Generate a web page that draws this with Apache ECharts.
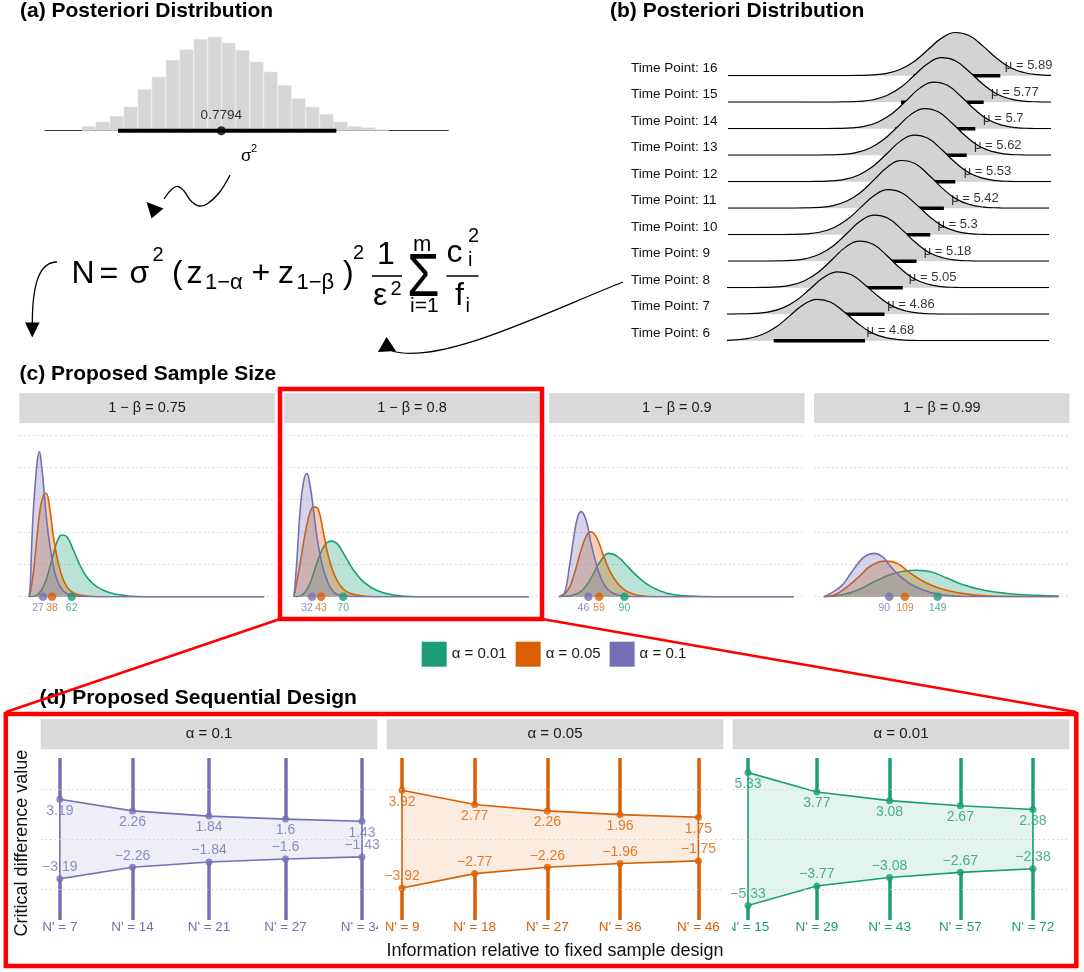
<!DOCTYPE html>
<html>
<head>
<meta charset="utf-8">
<script src="https://cdn.jsdelivr.net/npm/echarts@6/dist/echarts.min.js"></script>
<style>
  html, body { margin: 0; padding: 0; background: #fff; }
  #main { width: 1084px; height: 972px; }
</style>
</head>
<body>
<div id="main"></div>
<script>
// ---------- data ----------
// (a) posterior draws of sigma^2 (histogram)
const sigmaBins = [0.5425, 0.5675, 0.5925, 0.6175, 0.6425, 0.6675, 0.6925, 0.7175, 0.7425, 0.7675, 0.7925,
  0.8175, 0.8425, 0.8675, 0.8925, 0.9175, 0.9425, 0.9675, 0.9925, 1.0175, 1.0425, 1.0675];
const sigmaCounts = [4.7, 9, 14.7, 24, 41.3, 54, 70.7, 81.3, 91.7, 94, 88, 80.7, 69, 59, 45.7, 32.3, 24, 16.7, 9, 4.7, 3.3, 1.3];
const sigmaMean = 0.7794;
const sigmaInterval = [0.595, 0.985];

// (b) posterior of mu per time point (bottom row first)
const tpLabels = ['Time Point: 6', 'Time Point: 7', 'Time Point: 8', 'Time Point: 9', 'Time Point: 10', 'Time Point: 11',
  'Time Point: 12', 'Time Point: 13', 'Time Point: 14', 'Time Point: 15', 'Time Point: 16'];
const tpMu = [4.68, 4.86, 5.05, 5.18, 5.3, 5.42, 5.53, 5.62, 5.7, 5.77, 5.89];
const tpLo = [4.30, 4.47, 4.67, 4.85, 4.98, 5.09, 5.20, 5.29, 5.365, 5.415, 5.525];
const tpHi = [5.10, 5.27, 5.43, 5.55, 5.67, 5.79, 5.89, 5.99, 6.065, 6.138, 6.284];
const tpPeak = [1.56, 1.60, 1.76, 1.74, 1.70, 1.80, 1.76, 1.76, 1.76, 1.68, 1.63];
const ridgeRange = [3.9, 6.71];
const ridgeOffset = [-1.2, -0.96, -0.84, -0.72, -0.6, -0.48, -0.36, -0.24, -0.12, 0, 0.12, 0.24, 0.36, 0.48, 0.6, 0.72, 0.84, 0.96, 1.2];
const ridgeShape = [0, 0.002, 0.006, 0.018, 0.055, 0.15, 0.33, 0.6, 0.87, 1.0, 0.93, 0.69, 0.41, 0.19, 0.075, 0.024, 0.007, 0.002, 0];

// (c) proposed sample size, densities per power: [alpha 0.01, alpha 0.05, alpha 0.1]
const powerLabels = ['1 − β = 0.75', '1 − β = 0.8', '1 − β = 0.9', '1 − β = 0.99'];
const alphaNames = ['α = 0.01', 'α = 0.05', 'α = 0.1'];
const medianN = [[62, 38, 27], [70, 43, 32], [90, 59, 46], [149, 109, 90]];
const dens075 = [
  [[10, 0], [19.2, 0.0005], [27.4, 0.0031], [35.5, 0.0093], [41.6, 0.015], [45.7, 0.018], [49.7, 0.0191], [55.8, 0.0186], [64, 0.0144], [72, 0.0098], [80.2, 0.0062], [92.4, 0.0031], [108.7, 0.0012], [129, 0.0003], [150, 0], [297, 0]],
  [[10, 0], [12, 0.002], [15.1, 0.0072], [19.2, 0.0175], [23.3, 0.0268], [27.4, 0.0314], [30.6, 0.032], [35.5, 0.0268], [39.6, 0.0186], [45.7, 0.0103], [51.8, 0.0052], [59.9, 0.0019], [72, 0.0005], [95, 0], [297, 0]],
  [[10, 0], [11.5, 0.004], [13.1, 0.0155], [15, 0.026], [17.2, 0.034], [20, 0.042], [22.5, 0.0448], [25, 0.041], [27.4, 0.035], [31.4, 0.0237], [35.5, 0.0155], [41.6, 0.0072], [47.7, 0.0031], [55.8, 0.001], [68, 0.0002], [90, 0], [297, 0]]
];
const dens080 = [
  [[10, 0], [19.6, 0.0005], [27.7, 0.0031], [35.8, 0.0088], [44, 0.0144], [50.1, 0.0167], [56.2, 0.0172], [62.3, 0.0165], [70.4, 0.0134], [82.7, 0.0082], [94.9, 0.0046], [111.2, 0.0019], [131.5, 0.0005], [160, 0], [297, 0]],
  [[10, 0], [11.4, 0.002], [17.5, 0.0103], [23.6, 0.0196], [29.8, 0.0263], [34.6, 0.0278], [39.9, 0.0268], [46, 0.0196], [52.1, 0.0124], [60.3, 0.0062], [70.4, 0.0023], [86.7, 0.0005], [110, 0], [297, 0]],
  [[10, 0], [13.5, 0.0113], [17.5, 0.0268], [21.6, 0.0356], [25.7, 0.0381], [29.8, 0.034], [33.8, 0.0268], [37.9, 0.0186], [44, 0.0103], [50.1, 0.0052], [58.2, 0.0015], [70.4, 0.0002], [90, 0], [297, 0]]
];
const dens090 = [
  [[10, 0], [33, 0.001], [45.2, 0.0041], [53.3, 0.0077], [61.5, 0.0113], [70.8, 0.0134], [81.8, 0.0124], [94, 0.0093], [106.2, 0.0062], [122.5, 0.0031], [142.9, 0.001], [171.4, 0.0002], [200, 0], [297, 0]],
  [[10, 0], [20.8, 0.002], [28.9, 0.0072], [37, 0.0144], [43.1, 0.0186], [48.4, 0.0201], [55.4, 0.0186], [63.5, 0.0134], [71.6, 0.0082], [81.8, 0.0041], [94, 0.0015], [110.3, 0.0003], [130, 0], [297, 0]],
  [[10, 0], [16.7, 0.001], [22.8, 0.0093], [28.9, 0.0196], [33, 0.0247], [37, 0.0263], [43.1, 0.0237], [49.2, 0.0165], [55.4, 0.0103], [61.5, 0.0057], [69.6, 0.0023], [81.8, 0.0005], [100, 0], [297, 0]]
];
const dens099 = [
  [[10, 0], [30.6, 0.0005], [50.9, 0.002], [71.3, 0.0046], [91.6, 0.0069], [107.9, 0.0079], [124.2, 0.0082], [140.5, 0.0077], [160.8, 0.0057], [181.2, 0.0036], [205.6, 0.002], [234.1, 0.001], [270.7, 0.0004], [297, 0.0002]],
  [[10, 0], [22.4, 0.0005], [38.7, 0.0031], [55, 0.0067], [67.2, 0.0095], [85.5, 0.011], [99.8, 0.0103], [116, 0.0072], [136.4, 0.0041], [160.8, 0.0019], [193.4, 0.0005], [230, 0.0001], [297, 0]],
  [[10, 0], [14.3, 0.0005], [30.6, 0.0031], [42.8, 0.0072], [55, 0.0113], [63.1, 0.0129], [71.3, 0.0134], [81.5, 0.0124], [91.6, 0.0093], [103.8, 0.0062], [120.1, 0.0033], [140.5, 0.0013], [164.9, 0.0003], [200, 0], [297, 0]]
];

// (d) sequential design
const seqLabels = ['α = 0.1', 'α = 0.05', 'α = 0.01'];
const seqN = [[7, 14, 21, 27, 34], [9, 18, 27, 36, 46], [15, 29, 43, 57, 72]];
const seqInfo = [[0.21, 0.40, 0.60, 0.80, 1.00], [0.20, 0.39, 0.58, 0.77, 0.975], [0.20, 0.38, 0.57, 0.755, 0.945]];
const seqBound = [[3.19, 2.26, 1.84, 1.6, 1.43], [3.92, 2.77, 2.26, 1.96, 1.75], [5.33, 3.77, 3.08, 2.67, 2.38]];
const seqGridVals = [-4, 0, 4];
const seqSpan = 6.5;

// ---------- styles ----------
const FONT = '"Liberation Sans", Arial, Helvetica, sans-serif';
const alphaColors = ['#1b9e77', '#d95f02', '#7570b3'];
const seqColors = ['#7570b3', '#d95f02', '#1b9e77'];
const RED = '#ff0000';
const NONE = 'rgba(0,0,0,0)';

function rgba(hex, a) {
  const n = parseInt(hex.slice(1), 16);
  return 'rgba(' + (n >> 16) + ',' + ((n >> 8) & 255) + ',' + (n & 255) + ',' + a + ')';
}

const grids = [], xAxes = [], yAxes = [], series = [], graphics = [];

function addGrid(g, x, y) {
  grids.push(g);
  const i = grids.length - 1;
  xAxes.push(Object.assign({ gridIndex: i }, x));
  yAxes.push(Object.assign({ gridIndex: i }, y));
  return i;
}

function text(x, y, s, size, extra) {
  extra = extra || {};
  graphics.push({
    type: 'text', x: x, y: y, z: 50, silent: true,
    rotation: extra.rotation || 0, scaleX: extra.scaleX || 1,
    style: {
      text: s,
      font: (extra.weight || 'normal') + ' ' + size + 'px ' + FONT,
      fill: extra.color || '#000',
      textAlign: extra.align || 'left', align: extra.align || 'left',
      textVerticalAlign: 'middle', verticalAlign: 'middle'
    }
  });
}

function seg(x1, y1, x2, y2, color, w, z) {
  graphics.push({ type: 'line', z: z || 60, silent: true, shape: { x1: x1, y1: y1, x2: x2, y2: y2 }, style: { stroke: color, lineWidth: w } });
}

function box(x, y, w, h, color, lw) {
  graphics.push({ type: 'rect', z: 100, silent: true, shape: { x: x, y: y, width: w, height: h }, style: { fill: 'none', stroke: color, lineWidth: lw } });
}

function strip(x, y, w, h, label, size) {
  graphics.push({ type: 'rect', z: 10, silent: true, shape: { x: x, y: y, width: w, height: h }, style: { fill: '#d9d9d9' } });
  text(x + w / 2, y + h / 2, label, size, { align: 'center', color: '#1a1a1a' });
}

function arrowHead(pts) {
  graphics.push({ type: 'polygon', z: 60, silent: true, shape: { points: pts }, style: { fill: '#000' } });
}

// ---------- (a) posteriori distribution of sigma^2 ----------
text(20, 11, '(a) Posteriori Distribution', 21, { weight: 'bold' });
const ga = addGrid({ left: 45, top: 30.7, width: 403.3, height: 100 },
  { type: 'value', min: 0.4645, max: 1.185, axisLine: { show: true, lineStyle: { color: '#333', width: 1 } },
    axisTick: { show: false }, axisLabel: { show: false }, splitLine: { show: false } },
  { type: 'value', min: 0, max: 100, show: false });
series.push({
  type: 'bar', xAxisIndex: ga, yAxisIndex: ga, barWidth: 14, silent: true,
  data: sigmaBins.map((b, i) => [b, sigmaCounts[i]]),
  itemStyle: { color: '#d6d6d6', borderColor: '#e9e9e9', borderWidth: 0.6 }
});
series.push({
  type: 'line', xAxisIndex: ga, yAxisIndex: ga, symbol: 'none', silent: true, clip: false, z: 3,
  data: [[sigmaInterval[0], 0], [sigmaInterval[1], 0]], lineStyle: { color: '#000', width: 4 }
});
series.push({
  type: 'scatter', xAxisIndex: ga, yAxisIndex: ga, symbolSize: 9, silent: true, clip: false, z: 4,
  data: [[sigmaMean, 0]], itemStyle: { color: '#000' },
  label: { show: true, position: 'top', distance: 4, formatter: String(sigmaMean), fontSize: 13.5, fontFamily: FONT, color: '#000' }
});
text(241, 156, 'σ', 17);
text(251, 149, '2', 11);

// wavy arrow from sigma^2 into the formula
graphics.push({ type: 'polyline', z: 60, silent: true,
  shape: { points: [[230, 175], [219, 193], [207, 204], [199, 206], [191, 201], [184, 191], [178, 186.5], [172, 189], [164, 199]], smooth: 0.4 },
  style: { stroke: '#000', lineWidth: 1.3, fill: 'none' } });
arrowHead([[151.5, 218.5], [146.5, 202], [163.5, 208.5]]);

// formula
[['N', 71.5, 274, 32], ['=', 99.5, 274, 32], ['σ', 129.5, 274, 32], ['2', 152.5, 255, 20],
 ['(', 172, 274, 32], ['z', 186.5, 274, 32], ['1−α', 205, 282.5, 22], ['+', 251.5, 274, 32],
 ['z', 278, 274, 32], ['1−β', 296.5, 282.5, 22], [')', 343, 274, 32], ['2', 353, 253.5, 20],
 ['1', 377, 255, 32], ['ε', 373, 296.5, 32], ['2', 390.5, 289, 20],
 ['m', 413, 244.5, 22], ['i=1', 410, 306, 21],
 ['c', 446.5, 253.5, 32], ['2', 468, 236, 20], ['i', 468, 260, 20], ['f', 455, 296.5, 32], ['i', 465.5, 306.5, 20]
].forEach(p => text(p[1], p[2], p[0], p[3]));
text(407, 278.5, 'Σ', 62, { scaleX: 0.85 });
seg(372, 276, 402, 276, '#000', 1.6);
seg(446.5, 276, 478.5, 276, '#000', 1.6);

// arrow from formula down into (c)
graphics.push({ type: 'bezierCurve', z: 60, silent: true,
  shape: { x1: 57, y1: 262, cpx1: 40, cpy1: 262, cpx2: 32.3, cpy2: 282, x2: 32.3, y2: 324 },
  style: { stroke: '#000', lineWidth: 1.3, fill: 'none' } });
arrowHead([[32.3, 337.5], [25, 322.5], [39.6, 322.5]]);

// arrow from time point 8 to the formula
graphics.push({ type: 'bezierCurve', z: 60, silent: true,
  shape: { x1: 623, y1: 282, cpx1: 540, cpy1: 315, cpx2: 440, cpy2: 365, x2: 392, y2: 351 },
  style: { stroke: '#000', lineWidth: 1.3, fill: 'none' } });
arrowHead([[386.5, 337], [378, 352], [396, 351]]);

// ---------- (b) ridgeline of mu ----------
text(610, 11, '(b) Posteriori Distribution', 21, { weight: 'bold' });
for (let k = tpMu.length - 1; k >= 0; k--) {
  const base = 340.7 - 26.5 * k;
  const layer = 10 + 2 * (tpMu.length - 1 - k); // lower rows sit on top
  const g = addGrid({ left: 728, top: base - 53, width: 321, height: 53 },
    { type: 'value', min: ridgeRange[0], max: ridgeRange[1], show: false },
    { type: 'value', min: 0, max: 2, show: false });
  const pts = [[ridgeRange[0], 0]]
    .concat(ridgeOffset.map((o, j) => [tpMu[k] + o, tpPeak[k] * ridgeShape[j]]))
    .concat([[ridgeRange[1], 0]]);
  series.push({
    type: 'line', xAxisIndex: g, yAxisIndex: g, data: pts, smooth: 0.45, symbol: 'none', silent: true, z: layer,
    lineStyle: { color: '#000', width: 1.2 }, areaStyle: { color: '#d3d3d3', opacity: 1 }
  });
  series.push({
    type: 'line', xAxisIndex: g, yAxisIndex: g, data: [[tpLo[k], 0], [tpHi[k], 0]], symbol: 'none', silent: true, clip: false,
    z: layer + 1, lineStyle: { color: '#000', width: 3.5 }
  });
  series.push({
    type: 'scatter', xAxisIndex: g, yAxisIndex: g, data: [[tpMu[k], 0]], symbolSize: 1, silent: true, clip: false, z: 45,
    itemStyle: { color: NONE },
    label: { show: true, position: 'right', distance: 0, offset: [49, -10], formatter: 'μ = ' + tpMu[k],
      fontSize: 13, fontFamily: FONT, color: '#000' }
  });
  text(631, base - 7.5, tpLabels[k], 13.5, { color: '#111' });
}

// ---------- (c) proposed sample size ----------
text(19.5, 374, '(c) Proposed Sample Size', 21, { weight: 'bold' });
[dens075, dens080, dens090, dens099].forEach((set, f) => {
  const left = 19.3 + 264.9 * f;
  strip(left, 393.3, 255.5, 30, powerLabels[f], 14.5);
  const g = addGrid({ left: left, top: 435, width: 255.5, height: 161.7 },
    { type: 'value', min: -2, max: 310, show: false },
    { type: 'value', min: 0, max: 0.05, interval: 0.01, axisLine: { show: false }, axisTick: { show: false },
      axisLabel: { show: false }, splitLine: { show: true, lineStyle: { color: '#d0d0d0', width: 1, type: [1.5, 3] } } });
  set.forEach((d, a) => {
    series.push({
      type: 'line', name: alphaNames[a], xAxisIndex: g, yAxisIndex: g, data: d, smooth: 0.45,
      symbol: 'none', silent: true, z: 2 + a, itemStyle: { color: alphaColors[a] },
      lineStyle: { color: alphaColors[a], width: 1.6 }, areaStyle: { color: alphaColors[a], opacity: 0.3 }
    });
  });
  [2, 1, 0].forEach(a => {
    series.push({
      type: 'scatter', xAxisIndex: g, yAxisIndex: g, data: [[medianN[f][a], 0]], symbolSize: 8.5, silent: true, clip: false, z: 6,
      itemStyle: { color: alphaColors[a] },
      label: { show: true, position: 'bottom', distance: 2, offset: [a === 2 ? -5 : 0, 0], formatter: String(medianN[f][a]),
        fontSize: 10.5, fontFamily: FONT, color: alphaColors[a] }
    });
  });
});

// ---------- (d) proposed sequential design ----------
text(39.5, 698, '(d) Proposed Sequential Design', 21, { weight: 'bold' });
seqBound.forEach((ub, j) => {
  const c = seqColors[j];
  const xs = seqInfo[j];
  const left = 40.7 + 346 * j;
  strip(left, 719.3, 336.6, 30, seqLabels[j], 15);
  // panel spans the strip bottom down to below the N' labels
  const g = addGrid({ left: left, top: 749.3, width: 336.6, height: 187 },
    { type: 'value', min: 0.16, max: 1.04, show: false },
    { type: 'value', min: -7.8, max: 7.2, show: false });
  series.push({
    type: 'line', xAxisIndex: g, yAxisIndex: g, z: 1, data: [[xs[0], 0]], symbol: 'none', silent: true,
    lineStyle: { opacity: 0 },
    markLine: { silent: true, symbol: 'none', animation: false, label: { show: false },
      lineStyle: { color: '#d0d0d0', width: 1, type: [1.5, 3] }, data: seqGridVals.map(v => ({ yAxis: v })) }
  });
  series.push({
    type: 'custom', xAxisIndex: g, yAxisIndex: g, z: 2, data: [0], silent: true,
    renderItem: (params, api) => {
      const up = xs.map((x, i) => api.coord([x, ub[i]]));
      const lo = xs.map((x, i) => api.coord([x, -ub[i]])).reverse();
      return { type: 'polygon', shape: { points: up.concat(lo) }, style: { fill: rgba(c, 0.12), stroke: c, lineWidth: 1.6 } };
    }
  });
  series.push({
    type: 'lines', coordinateSystem: 'cartesian2d', xAxisIndex: g, yAxisIndex: g, z: 3, silent: true,
    lineStyle: { color: c, width: 3.5, opacity: 1 },
    data: xs.flatMap((x, i) => [{ coords: [[x, seqSpan], [x, ub[i]]] }, { coords: [[x, -ub[i]], [x, -seqSpan]] }])
  });
  series.push({
    type: 'scatter', xAxisIndex: g, yAxisIndex: g, z: 4, symbolSize: 7, silent: true, clip: false,
    itemStyle: { color: c }, data: xs.map((x, i) => [x, ub[i]]),
    label: { show: true, position: 'bottom', distance: 1, color: c, fontSize: 14, fontFamily: FONT,
      formatter: p => String(ub[p.dataIndex]) }
  });
  series.push({
    type: 'scatter', xAxisIndex: g, yAxisIndex: g, z: 4, symbolSize: 7, silent: true, clip: false,
    itemStyle: { color: c }, data: xs.map((x, i) => [x, -ub[i]]),
    label: { show: true, position: 'top', distance: 1, color: c, fontSize: 14, fontFamily: FONT,
      formatter: p => '−' + ub[p.dataIndex] }
  });
  // N' labels, clipped by the panel like the original
  series.push({
    type: 'custom', xAxisIndex: g, yAxisIndex: g, z: 4, silent: true, clip: true,
    data: xs.map((x, i) => [x, -seqSpan, seqN[j][i]]),
    renderItem: (params, api) => {
      const p = api.coord([api.value(0), api.value(1)]);
      return { type: 'text', x: p[0], y: p[1] + 7.5,
        style: { text: "N' = " + api.value(2), fill: c, font: '13.5px ' + FONT,
          textAlign: 'center', align: 'center', textVerticalAlign: 'middle', verticalAlign: 'middle' } };
    }
  });
});
text(21.7, 843, 'Critical difference value', 18, { align: 'center', rotation: Math.PI / 2, color: '#111' });
text(555, 951.5, 'Information relative to fixed sample design', 18, { align: 'center', color: '#111' });

// ---------- red highlight boxes ----------
box(280, 389, 262, 230, RED, 4.5);
seg(280, 619, 6, 712, RED, 2.6, 100);
seg(542, 619, 1076, 712, RED, 2.6, 100);
box(5.8, 714, 1070.5, 252, RED, 4.5);

// ---------- chart ----------
const chart = echarts.init(document.getElementById('main'));
chart.setOption({
  animation: false,
  backgroundColor: '#fff',
  grid: grids,
  xAxis: xAxes,
  yAxis: yAxes,
  legend: {
    left: 416.7, top: 636.7, itemWidth: 25, itemHeight: 25, itemGap: 9, icon: 'rect', selectedMode: false,
    textStyle: { fontSize: 15, fontFamily: FONT, color: '#1a1a1a' },
    data: alphaNames.map((n, i) => ({ name: n, itemStyle: { color: alphaColors[i], opacity: 1 } }))
  },
  series: series,
  graphic: { elements: graphics }
});
</script>
</body>
</html>
